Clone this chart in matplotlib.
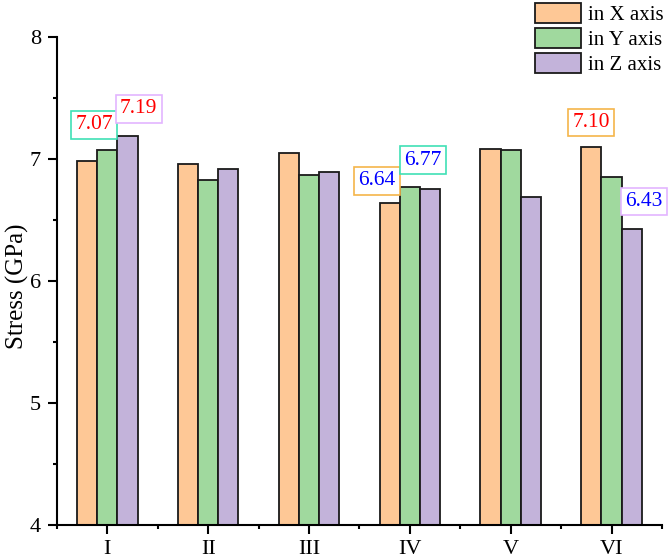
import numpy as np
import matplotlib
matplotlib.use("Agg")
from matplotlib import pyplot as plt
from matplotlib.ticker import MultipleLocator

# Stress values
groups = ['I', 'II', 'III', 'IV', 'V', 'VI']
stress_x = [6.98, 6.96, 7.05, 6.64, 7.08, 7.10]
stress_y = [7.07, 6.83, 6.87, 6.77, 7.075, 6.855]
stress_z = [7.19, 6.92, 6.89, 6.75, 6.69, 6.43]
series_names = ['in X axis', 'in Y axis', 'in Z axis']

# (group, series, text, text colour, box colour, dx, dy) for the boxed labels
notes = [
    (0, 1, '7.07', 'red', '#3fe0b5', -0.13, 0.21),
    (0, 2, '7.19', 'red', '#e3b5ff', 0.11, 0.22),
    (3, 0, '6.64', 'blue', '#f5b54a', -0.13, 0.18),
    (3, 1, '6.77', 'blue', '#3fe0b5', 0.13, 0.22),
    (5, 0, '7.10', 'red', '#f5b54a', 0.0, 0.20),
    (5, 2, '6.43', 'blue', '#e3b5ff', 0.12, 0.22),
]

plt.rcParams['font.family'] = ['Liberation Serif', 'DejaVu Serif']

fig = plt.figure(figsize=(6.7, 5.6), dpi=100)
ax = fig.add_axes([0.085, 0.0625, 0.903, 0.8715])

colors = ['#fec896', '#a0d99e', '#c3b3da']
width = 0.2
x = np.arange(1, len(groups) + 1)
data = [stress_x, stress_y, stress_z]
for i, (vals, c, name) in enumerate(zip(data, colors, series_names)):
    ax.bar(x + (i - 1) * width, np.array(vals) - 4, width, bottom=4,
           color=c, edgecolor='#1a1a1a', linewidth=1.3, label=name)

for g, s, txt, tc, bc, dx, dy in notes:
    xpos = x[g] + (s - 1) * width + dx
    ax.text(xpos, data[s][g] + dy, txt, color=tc, fontsize=15.5,
            ha='center', va='center', zorder=5,
            bbox=dict(boxstyle='square,pad=0.2', fc='white', ec=bc, lw=1.2))

ax.set_xlim(0.5, 6.5)
ax.set_ylim(4, 8)
ax.set_xticks(x)
ax.set_xticklabels(groups)
ax.xaxis.set_minor_locator(MultipleLocator(1, offset=0.5))
ax.yaxis.set_major_locator(MultipleLocator(1))
ax.yaxis.set_minor_locator(MultipleLocator(0.5))
ax.tick_params(which='major', direction='out', length=6.5, width=1.5, labelsize=16)
ax.tick_params(which='minor', direction='out', length=3, width=1.5)
ax.tick_params(axis='x', which='major', pad=4)
ax.tick_params(axis='y', which='major', pad=5)
for side in ['top', 'right']:
    ax.spines[side].set_visible(False)
for side in ['left', 'bottom']:
    ax.spines[side].set_linewidth(1.5)
ax.set_ylabel('Stress (GPa)', fontsize=18, va='center')
ax.yaxis.set_label_coords(-0.065, 0.49)

ax.legend(loc='upper right', bbox_to_anchor=(0.99, 0.995),
          bbox_transform=fig.transFigure, frameon=False,
          fontsize=15, handlelength=2.25, handleheight=1.1,
          handletextpad=0.3, labelspacing=0.15, borderpad=0, borderaxespad=0)

fig.savefig('out.png', dpi=100)
